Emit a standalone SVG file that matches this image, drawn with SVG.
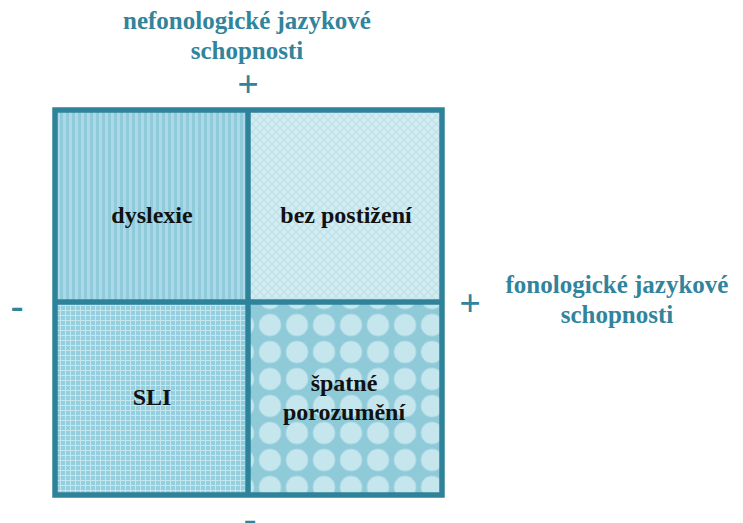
<svg xmlns="http://www.w3.org/2000/svg" width="743" height="523" viewBox="0 0 743 523">
<defs>
<pattern id="stripes" width="6" height="6" patternUnits="userSpaceOnUse">
<rect width="6" height="6" fill="#ABD9E5"/>
<rect width="3" height="6" fill="#8FCBDA"/>
</pattern>
<pattern id="diag" width="8" height="8" patternUnits="userSpaceOnUse">
<rect width="8" height="8" fill="#D3ECF2"/>
<path d="M0 0L8 8M8 0L0 8" stroke="#BDE0E9" stroke-width="1.2"/>
</pattern>
<pattern id="grid" width="5" height="5" patternUnits="userSpaceOnUse">
<rect width="5" height="5" fill="#93CFDE"/>
<path d="M0 0.5H5M0.5 0V5" stroke="#C4E6EE" stroke-width="1"/>
</pattern>
<pattern id="dots" x="256.5" y="311.5" width="27" height="27" patternUnits="userSpaceOnUse">
<rect width="27" height="27" fill="#8FCAD9"/>
<circle cx="13.5" cy="13.5" r="11" fill="#C6E6EE"/>
</pattern>
</defs>
<g id="q-dyslexie">
<rect x="55" y="110" width="193" height="192" fill="url(#stripes)"/>
<text x="152" y="223" font-family="Liberation Serif" font-weight="bold" font-size="24" fill="#111" text-anchor="middle">dyslexie</text>
</g>
<g id="q-bez">
<rect x="248" y="110" width="194" height="192" fill="url(#diag)"/>
<text x="346" y="223" font-family="Liberation Serif" font-weight="bold" font-size="24" fill="#111" text-anchor="middle">bez postižení</text>
</g>
<g id="q-sli">
<rect x="55" y="302" width="193" height="193" fill="url(#grid)"/>
<text x="152" y="405" font-family="Liberation Serif" font-weight="bold" font-size="24" fill="#111" text-anchor="middle">SLI</text>
</g>
<g id="q-spatne">
<rect x="248" y="302" width="194" height="193" fill="url(#dots)"/>
<text x="344" y="391" font-family="Liberation Serif" font-weight="bold" font-size="24" fill="#111" text-anchor="middle">špatné</text>
<text x="344" y="420" font-family="Liberation Serif" font-weight="bold" font-size="24" fill="#111" text-anchor="middle">porozumění</text>
</g>
<g id="frame" fill="none" stroke="#2E8299" stroke-width="5.5">
<rect x="55" y="110" width="387" height="385"/>
<path d="M248 110V495M55 302H442"/>
</g>
<g id="labels" fill="#31849B" text-anchor="middle">
<text x="247" y="29" font-family="Liberation Serif" font-weight="bold" font-size="25">nefonologické jazykové</text>
<text x="247" y="59" font-family="Liberation Serif" font-weight="bold" font-size="25">schopnosti</text>
<text x="248" y="97" font-family="Liberation Serif" font-weight="bold" font-size="38">+</text>
<text x="617" y="293" font-family="Liberation Serif" font-weight="bold" font-size="25">fonologické jazykové</text>
<text x="617" y="323" font-family="Liberation Serif" font-weight="bold" font-size="25">schopnosti</text>
<text x="470" y="316" font-family="Liberation Serif" font-weight="bold" font-size="38">+</text>
<text x="17" y="318" font-family="Liberation Serif" font-weight="bold" font-size="38">-</text>
<text x="250" y="531" font-family="Liberation Serif" font-weight="bold" font-size="38">-</text>
</g>
</svg>
